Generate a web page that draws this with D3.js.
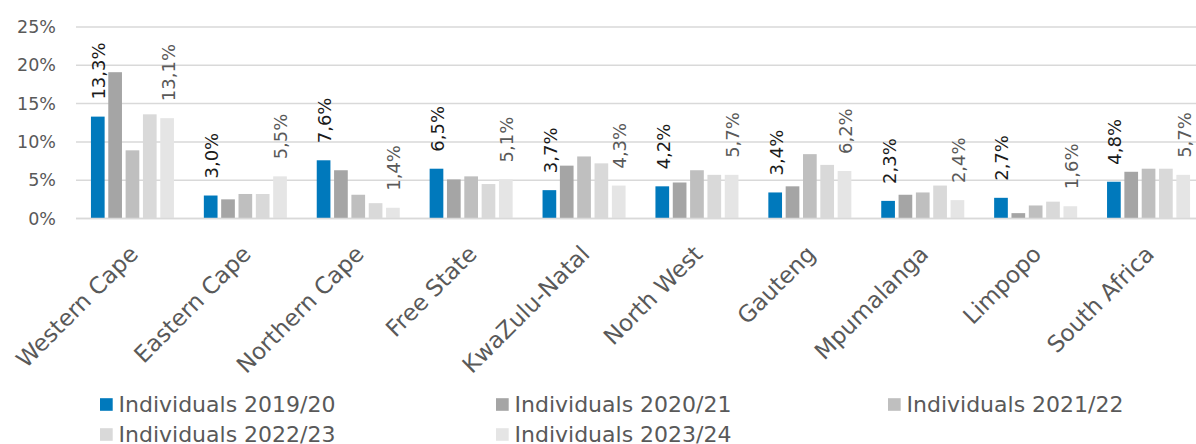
<!DOCTYPE html>
<html>
<head>
<meta charset="utf-8">
<script src="https://cdn.jsdelivr.net/npm/d3@7"></script>
<style>
  html, body { margin: 0; padding: 0; background: #fff; }
  svg { display: block; font-family: "DejaVu Sans", sans-serif; }
</style>
</head>
<body>
<svg id="chart" width="1196" height="444"></svg>
<script>
// Share of individuals per province, five financial years
const categories = ["Western Cape", "Eastern Cape", "Northern Cape", "Free State", "KwaZulu-Natal",
  "North West", "Gauteng", "Mpumalanga", "Limpopo", "South Africa"];
const seriesNames = ["Individuals 2019/20", "Individuals 2020/21", "Individuals 2021/22",
  "Individuals 2022/23", "Individuals 2023/24"];
const values2019 = [13.3, 3.0, 7.6, 6.5, 3.7, 4.2, 3.4, 2.3, 2.7, 4.8];
const values2020 = [19.1, 2.5, 6.3, 5.1, 6.9, 4.7, 4.2, 3.1, 0.7, 6.1];
const values2021 = [8.9, 3.2, 3.1, 5.5, 8.1, 6.3, 8.4, 3.4, 1.7, 6.5];
const values2022 = [13.6, 3.2, 2.0, 4.5, 7.2, 5.7, 7.0, 4.3, 2.2, 6.5];
const values2023 = [13.1, 5.5, 1.4, 5.1, 4.3, 5.7, 6.2, 2.4, 1.6, 5.7];
const yTicks = [0, 5, 10, 15, 20, 25];

const allSeries = [values2019, values2020, values2021, values2022, values2023];
const colors = ["#0079BC", "#A5A5A5", "#BFBFBF", "#D9D9D9", "#E5E5E5"];
const labelled = [0, 4];               // series that carry value labels
const labelColors = { 0: "#1A1A1A", 4: "#595959" };

const svg = d3.select("#chart");
const W = 1196;
const plotLeft = 76, plotRight = 1205, plotTop = 27, plotBottom = 218.5;

const x0 = d3.scaleBand().domain(categories).range([plotLeft, plotRight])
  .paddingInner(0.234).paddingOuter(0.117);
const x1 = d3.scaleBand().domain(d3.range(seriesNames.length)).range([0, x0.bandwidth()])
  .paddingInner(0.21).paddingOuter(0.1);
const y = d3.scaleLinear().domain([0, 25]).range([plotBottom, plotTop]);

const fmt = v => v.toFixed(1).replace(".", ",") + "%";

// gridlines
svg.append("g").selectAll("line").data(yTicks).join("line")
  .attr("x1", plotLeft).attr("x2", W)
  .attr("y1", d => y(d)).attr("y2", d => y(d))
  .attr("stroke", "#D9D9D9").attr("stroke-width", 1.5);

// y axis labels
const yAxis = svg.append("g").attr("transform", `translate(${plotLeft},0)`)
  .call(d3.axisLeft(y).tickValues(yTicks).tickSize(0).tickPadding(20).tickFormat(d => d + "%"));
yAxis.select(".domain").remove();
yAxis.selectAll("text").attr("fill", "#595959").style("font-size", "17.5px")
  .style("font-family", "DejaVu Sans, sans-serif");

// bars
const rows = categories.map((c, i) => ({ cat: c, vals: allSeries.map(s => s[i]) }));
const groups = svg.append("g").selectAll("g").data(rows).join("g")
  .attr("transform", d => `translate(${x0(d.cat)},0)`);
groups.selectAll("rect").data(d => d.vals.map((v, k) => ({ v, k }))).join("rect")
  .attr("x", d => x1(d.k))
  .attr("width", x1.bandwidth())
  .attr("y", d => y(d.v))
  .attr("height", d => y(0) - y(d.v))
  .attr("fill", d => colors[d.k]);

// value labels (rotated, above bars)
groups.selectAll("text.val").data(d => d.vals.map((v, k) => ({ v, k })).filter(d => labelled.includes(d.k)))
  .join("text").attr("class", "val")
  .attr("transform", d => `translate(${x1(d.k) + x1.bandwidth() / 2 + 1},${y(d.v) - 17}) rotate(-90)`)
  .attr("dy", "0.36em")
  .attr("text-anchor", "start")
  .attr("fill", d => labelColors[d.k])
  .style("font-size", "18px")
  .text(d => fmt(d.v));

// baseline
svg.append("line").attr("x1", plotLeft).attr("x2", W)
  .attr("y1", y(0)).attr("y2", y(0)).attr("stroke", "#D9D9D9").attr("stroke-width", 1.5);

// category axis
const xAxis = svg.append("g").attr("transform", `translate(0,${plotBottom})`)
  .call(d3.axisBottom(x0).tickSize(0).tickPadding(0));
xAxis.select(".domain").remove();
xAxis.selectAll("text")
  .attr("fill", "#595959")
  .style("font-size", "23px")
  .style("font-family", "DejaVu Sans, sans-serif")
  .attr("text-anchor", "end")
  .attr("y", 0).attr("dy", 0)
  .attr("transform", "translate(7,37) rotate(-45)");

// legend
const legendX = [100, 496, 888];
const legendY = [404.5, 434.5];
const legend = svg.append("g").selectAll("g").data(seriesNames).join("g")
  .attr("transform", (d, i) => `translate(${legendX[i % 3]},${legendY[Math.floor(i / 3)]})`);
legend.append("rect").attr("x", 0).attr("y", -6.3).attr("width", 12.7).attr("height", 12.6)
  .attr("fill", (d, i) => colors[i]);
legend.append("text").attr("x", 18.5).attr("y", 0).attr("dy", "0.36em")
  .attr("fill", "#595959").style("font-size", "22px").text(d => d);
</script>
</body>
</html>
